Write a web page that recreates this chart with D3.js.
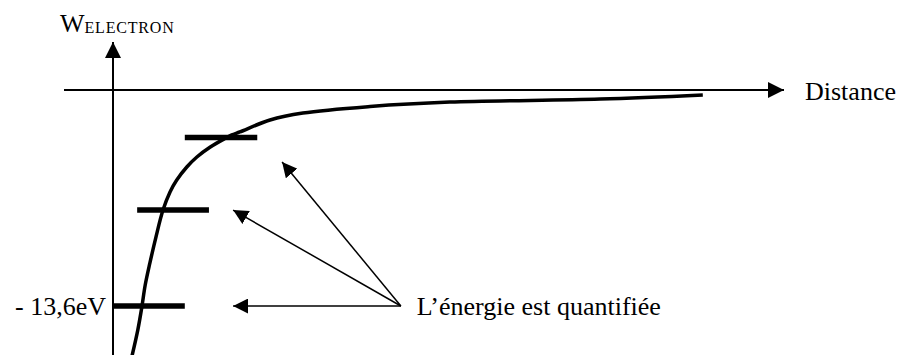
<!DOCTYPE html>
<html>
<head>
<meta charset="utf-8">
<script src="https://cdn.jsdelivr.net/npm/d3@7"></script>
<style>
  body { margin: 0; background: #fff; }
  svg { display: block; font-family: "Liberation Serif", "Times New Roman", serif; }
</style>
</head>
<body>
<svg id="chart"></svg>
<script>
// Size of the picture
const width = 900, height = 355;

// Energy curve (distance in arbitrary units, energy in eV)
const curveDistance = [2.8, 3.7, 4.3, 4.8, 5.5, 6.4, 7.45, 8.5, 9.5, 11.0, 12.5, 14.5, 16.7, 17.7, 18.9, 23.4, 28.3, 38.3, 50.2, 72.6, 87.9];
const curveEnergy   = [-16.8, -15.1, -13.66, -12.28, -10.89, -9.26, -7.56, -6.42, -5.67, -4.85, -4.22, -3.59, -3.05, -2.83, -2.64, -1.89, -1.45, -1.04, -0.76, -0.57, -0.31];

// Quantified levels
const levelEnergy = [-13.6, -7.56, -2.99];
const levelStart  = [0, 3.6, 10.7];
const levelEnd    = [10.7, 14.3, 21.5];
const levelLabels = ['- 13,6eV', '', ''];

// Annotation arrows: common start and tips
const noteFrom = { d: 42.9, e: -13.6 };
const noteTipDistance = [17.9, 17.9, 25.2];
const noteTipEnergy   = [-13.6, -7.56, -4.53];
const noteText = 'L\u2019énergie est quantifiée';

// Axis texts
const xLabel = 'Distance';
const yLabel = 'W';
const yLabelSub = 'ELECTRON';

const x = d3.scaleLinear().domain([0, 100]).range([113, 784]);
const y = d3.scaleLinear().domain([0, -13.6]).range([90, 306]);

const svg = d3.select('#chart').attr('width', width).attr('height', height);

// arrowhead markers
const defs = svg.append('defs');
function marker(id, size) {
  defs.append('marker')
    .attr('id', id)
    .attr('viewBox', '0 0 10 10')
    .attr('refX', 10).attr('refY', 5)
    .attr('markerUnits', 'userSpaceOnUse')
    .attr('markerWidth', size).attr('markerHeight', size)
    .attr('orient', 'auto')
    .append('path')
    .attr('d', 'M0,0L10,5L0,10Z')
    .attr('fill', '#000');
}
marker('axisHead', 16);
marker('noteHead', 15);

// horizontal axis
svg.append('line')
  .attr('x1', 64).attr('y1', y(0))
  .attr('x2', x(100)).attr('y2', y(0))
  .attr('stroke', '#000').attr('stroke-width', 2)
  .attr('marker-end', 'url(#axisHead)');

// vertical axis
svg.append('line')
  .attr('x1', x(0)).attr('y1', height)
  .attr('x2', x(0)).attr('y2', 42)
  .attr('stroke', '#000').attr('stroke-width', 2)
  .attr('marker-end', 'url(#axisHead)');

svg.append('text')
  .attr('x', 805).attr('y', y(0) + 10)
  .attr('font-size', 26)
  .text(xLabel);

const yl = svg.append('text')
  .attr('x', 60).attr('y', 32)
  .attr('font-size', 26);
yl.append('tspan').text(yLabel);
yl.append('tspan').attr('font-size', 16).attr('dy', 1).attr('letter-spacing', 0.8).text(yLabelSub);

// energy curve
const pts = curveDistance.map((d, i) => [d, curveEnergy[i]]);
svg.append('path')
  .datum(pts)
  .attr('d', d3.line().x(d => x(d[0])).y(d => y(d[1])).curve(d3.curveCatmullRom.alpha(0.5)))
  .attr('fill', 'none')
  .attr('stroke', '#000')
  .attr('stroke-width', 3.5);

// levels
svg.selectAll('.level')
  .data(levelEnergy)
  .enter()
  .append('line')
  .attr('class', 'level')
  .attr('x1', (d, i) => x(levelStart[i]))
  .attr('x2', (d, i) => x(levelEnd[i]))
  .attr('y1', d => y(d))
  .attr('y2', d => y(d))
  .attr('stroke', '#000')
  .attr('stroke-width', 5.5);

svg.selectAll('.levelLabel')
  .data(levelEnergy)
  .enter()
  .append('text')
  .attr('class', 'levelLabel')
  .attr('x', x(0) - 7)
  .attr('y', d => y(d) + 9)
  .attr('text-anchor', 'end')
  .attr('font-size', 26)
  .text((d, i) => levelLabels[i]);

// annotation arrows
svg.selectAll('.note')
  .data(noteTipDistance)
  .enter()
  .append('line')
  .attr('class', 'note')
  .attr('x1', x(noteFrom.d)).attr('y1', y(noteFrom.e))
  .attr('x2', d => x(d))
  .attr('y2', (d, i) => y(noteTipEnergy[i]))
  .attr('stroke', '#000')
  .attr('stroke-width', 1.5)
  .attr('marker-end', 'url(#noteHead)');

svg.append('text')
  .attr('x', x(noteFrom.d) + 16)
  .attr('y', y(noteFrom.e) + 9)
  .attr('font-size', 26)
  .text(noteText);
</script>
</body>
</html>
